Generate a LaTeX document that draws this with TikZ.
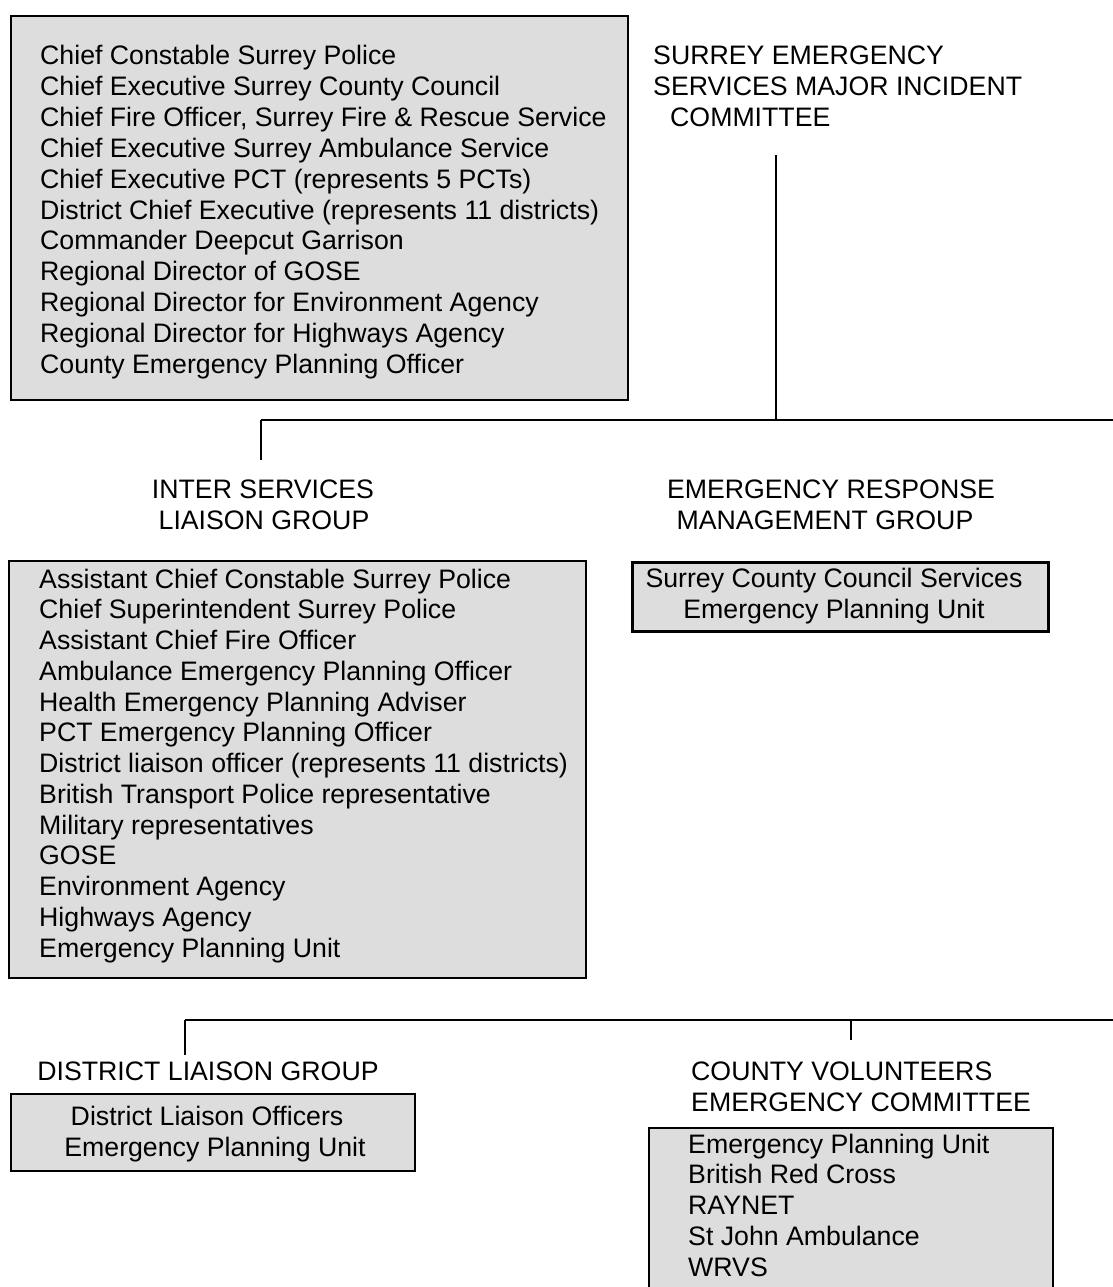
\documentclass[tikz,border=0pt]{standalone}
\usepackage{fontspec}
\setmainfont{Liberation Sans}
\usetikzlibrary{positioning}
\definecolor{panelgray}{HTML}{DDDDDD}
\tikzset{
  panel/.style={draw, fill=panelgray, line width=2pt, inner sep=0pt, anchor=north west},
  entry/.style={anchor=base west, inner sep=0pt},
  head/.style={anchor=base, inner sep=0pt},
  link/.style={line width=2pt},
}

\begin{document}
\begin{tikzpicture}[x=1pt, y=-1pt, font=\fontsize{26.7}{31}\selectfont]
    \clip (0,0) rectangle (1113,1287);

    % major incident committee
    \node[panel, minimum width=617pt, minimum height=384pt] (semp) at (10,15) {};
    \foreach \t [count=\i from 0] in {Chief Constable Surrey Police, Chief Executive Surrey County Council,
        {Chief Fire Officer, Surrey Fire \& Rescue Service}, Chief Executive Surrey Ambulance Service,
        Chief Executive PCT (represents 5 PCTs), District Chief Executive (represents 11 districts),
        Commander Deepcut Garrison, Regional Director of GOSE, Regional Director for Environment Agency,
        Regional Director for Highways Agency, County Emergency Planning Officer}
        \node[entry] (sem\i) at (40,65+30.8*\i) {\t};

    \node[entry] (semt1) at (653,65) {SURREY EMERGENCY};
    \node[entry] (semt2) at (653,96) {SERVICES MAJOR INCIDENT};
    \node[entry] (semt3) at (670,127) {COMMITTEE};

    \coordinate (semfoot) at (776,155);
    \coordinate (busa) at (776,420);
    \coordinate (busal) at (261,420);
    \coordinate (busar) at (1113,420);
    \coordinate (islgtop) at (261,460);
    \draw[link] (semfoot) -- (busa);
    \draw[link] (busal) -- (busar);
    \draw[link] (busal) -- (islgtop);

    % second tier
    \node[head] (islg1) at (263,498) {INTER SERVICES};
    \node[head] (islg2) at (264,529) {LIAISON GROUP};
    \node[head] (ermg1) at (831,498) {EMERGENCY RESPONSE};
    \node[head] (ermg2) at (825,529) {MANAGEMENT GROUP};

    \node[panel, minimum width=577pt, minimum height=417pt] (islgp) at (8,560) {};
    \foreach \t [count=\i from 0] in {Assistant Chief Constable Surrey Police, Chief Superintendent Surrey Police,
        Assistant Chief Fire Officer, Ambulance Emergency Planning Officer, Health Emergency Planning Adviser,
        PCT Emergency Planning Officer, District liaison officer (represents 11 districts),
        British Transport Police representative, Military representatives, GOSE, Environment Agency,
        Highways Agency, Emergency Planning Unit}
        \node[entry] (islg\i) at (39,588+30.75*\i) {\t};

    \node[panel, line width=3pt, minimum width=416pt, minimum height=69pt] (ermgp) at (631,561) {};
    \node[head] (ermga) at (834,587) {Surrey County Council Services};
    \node[head] (ermgb) at (834,618) {Emergency Planning Unit};

    \coordinate (busbl) at (185,1020);
    \coordinate (busbr) at (1113,1020);
    \coordinate (dlgtop) at (185,1055);
    \coordinate (busbm) at (851,1020);
    \coordinate (cvectop) at (851,1040);
    \draw[link] (busbl) -- (busbr);
    \draw[link] (busbl) -- (dlgtop);
    \draw[link] (busbm) -- (cvectop);

    % third tier
    \node[head] (dlg) at (208,1080) {DISTRICT LIAISON GROUP};
    \node[panel, minimum width=404pt, minimum height=77pt] (dlgp) at (10,1093) {};
    \node[head] (dlga) at (207,1125) {District Liaison Officers};
    \node[head] (dlgb) at (215,1156) {Emergency Planning Unit};

    \node[entry] (cvec1) at (691,1080) {COUNTY VOLUNTEERS};
    \node[entry] (cvec2) at (691,1111) {EMERGENCY COMMITTEE};
    \node[panel, minimum width=404pt, minimum height=220pt] (cvecp) at (648,1127) {};
    \foreach \t [count=\i from 0] in {Emergency Planning Unit, British Red Cross, RAYNET,
        St John Ambulance, WRVS}
        \node[entry] (cvec\i) at (688,1153+30.8*\i) {\t};
\end{tikzpicture}
\end{document}
